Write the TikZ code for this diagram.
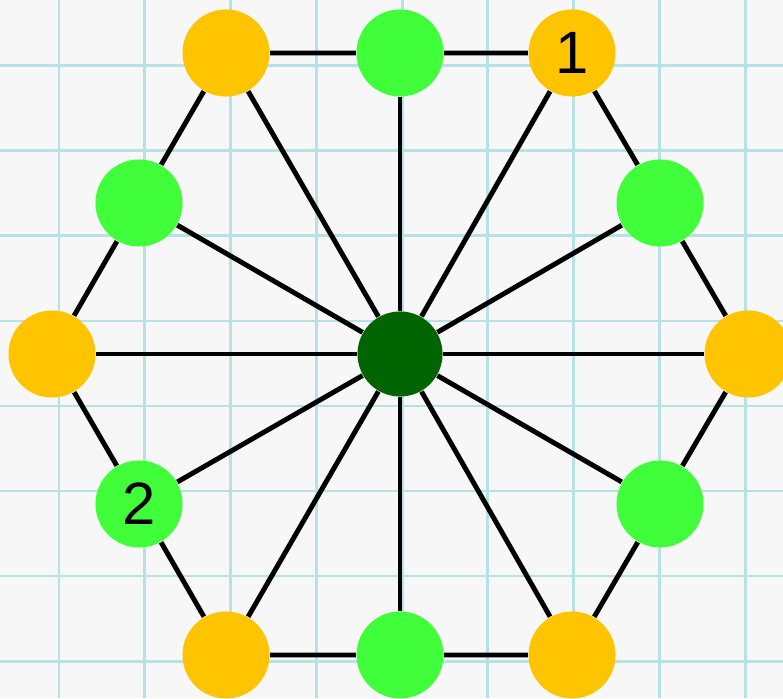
\documentclass[tikz,border=0pt]{standalone}
\usepackage{fontspec}
\setmainfont{Liberation Sans}
\usetikzlibrary{calc}

\definecolor{paper}{RGB}{247,247,248}
\definecolor{gridcyan}{RGB}{182,226,230}
\definecolor{vorange}{RGB}{255,196,0}
\definecolor{mgreen}{RGB}{64,255,58}
\definecolor{cgreen}{RGB}{0,100,0}

\tikzset{
  vert/.style={circle,fill=vorange,inner sep=0pt,minimum size=0.87cm,font=\fontsize{17}{17}\selectfont},
  mid/.style={circle,fill=mgreen,inner sep=0pt,minimum size=0.87cm,font=\fontsize{17}{17}\selectfont},
  hub/.style={circle,fill=cgreen,inner sep=0pt,minimum size=0.85cm},
  edge/.style={line width=1.4pt}
}

\begin{document}
\begin{tikzpicture}[x=0.01cm,y=-0.01cm]
\path[use as bounding box] (0,0) rectangle (783,698);
\clip (0,0) rectangle (783,698);
\fill[paper] (0,0) rectangle (783,698);

% grid paper
\foreach \i in {0,...,8}
  \draw[gridcyan,line width=0.85pt] ({59+85.75*\i},0) -- ({59+85.75*\i},698);
\foreach \j in {0,...,7}
  \draw[gridcyan,line width=0.85pt] (0,{66+85*\j}) -- (783,{66+85*\j});

\node[hub] (c) at (400,354) {};

\node[vert] (v1) at (572,53) {1};
\node[vert] (v2) at (748,354) {};
\node[vert] (v3) at (572,655) {};
\node[vert] (v4) at (226,655) {};
\node[vert] (v5) at (52,354) {};
\node[vert] (v6) at (226,53) {};

\node[mid] (m1) at (660,203) {};
\node[mid] (m2) at (660,504) {};
\node[mid] (m3) at (400,655) {};
\node[mid] (m4) at (139,504) {2};
\node[mid] (m5) at (139,203) {};
\node[mid] (m6) at (400,53) {};

% hexagon
\draw[edge] (v1) -- (m1) -- (v2) -- (m2) -- (v3) -- (m3) -- (v4)
  -- (m4) -- (v5) -- (m5) -- (v6) -- (m6) -- (v1);

% spokes
\foreach \n in {v1,v2,v3,v4,v5,v6,m1,m2,m3,m4,m5,m6}
  \draw[edge] (c) -- (\n);
\end{tikzpicture}
\end{document}
